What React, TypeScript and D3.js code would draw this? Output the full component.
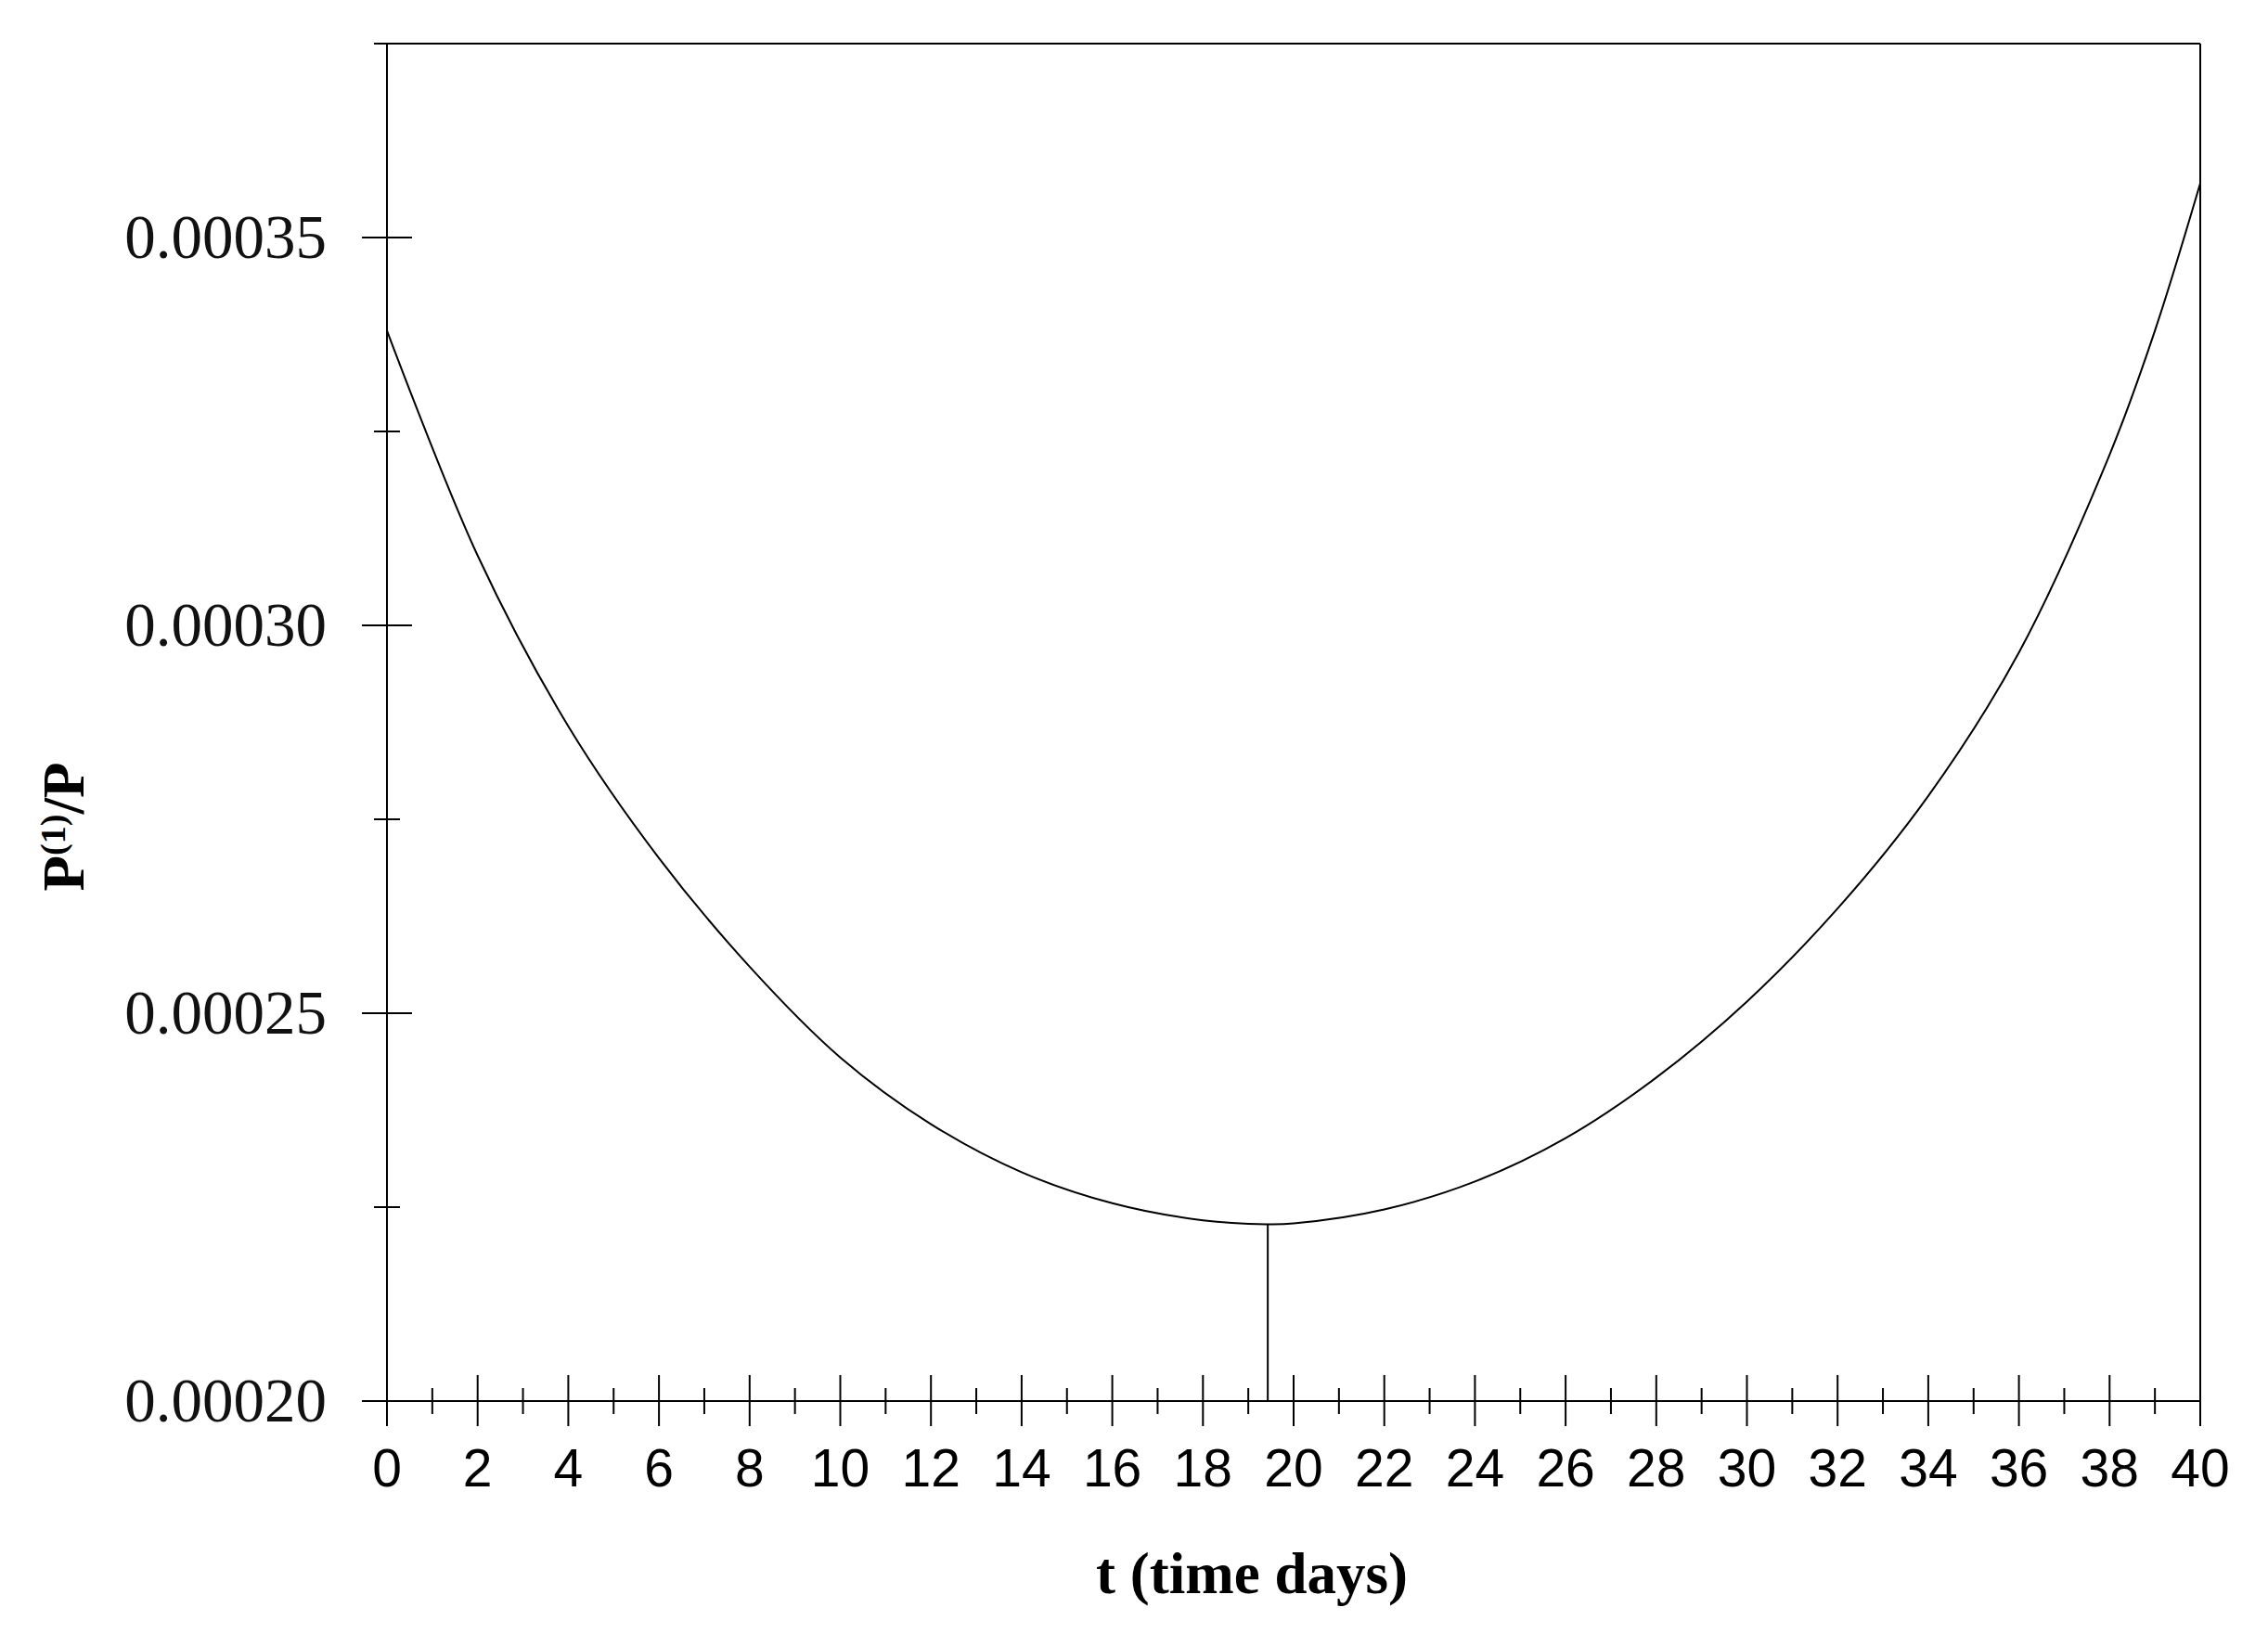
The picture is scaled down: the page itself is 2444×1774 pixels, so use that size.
import React from 'react'
import * as d3 from 'd3'

// curve (t in days, P(1)/P)
const days = [0, 2, 4, 6, 8, 10, 12, 14, 16, 18, 19.4, 20, 22, 24, 26, 28, 30, 32, 34, 36, 38, 39, 40]
const ratio = [
  0.000338, 0.000309, 0.000287, 0.00027, 0.000256, 0.0002443, 0.0002357, 0.0002295, 0.0002255,
  0.0002233, 0.0002228, 0.0002229, 0.0002247, 0.0002283, 0.0002339, 0.0002417, 0.0002515, 0.0002635,
  0.000278, 0.0002965, 0.000322, 0.000338, 0.000357,
]

// the drop line at the minimum
const minDay = 19.43
const minRatio = 0.0002228

const xMajor = [0, 2, 4, 6, 8, 10, 12, 14, 16, 18, 20, 22, 24, 26, 28, 30, 32, 34, 36, 38, 40]
const xMinor = [1, 3, 5, 7, 9, 11, 13, 15, 17, 19, 21, 23, 25, 27, 29, 31, 33, 35, 37, 39]
const yMajor = [0.0002, 0.00025, 0.0003, 0.00035]
const yMinor = [0.000225, 0.000275, 0.000325, 0.000375]
const yLabels = ['0.00020', '0.00025', '0.00030', '0.00035']

const W = 2444
const H = 1774

export default function App() {
  const x = d3.scaleLinear().domain([0, 40]).range([417, 2371])
  const y = d3.scaleLinear().domain([0.0002, 0.000375]).range([1510, 47])

  const pts = days.map((d, i) => [d, ratio[i]] as [number, number])
  const line = d3.line<[number, number]>()
    .x(d => x(d[0]))
    .y(d => y(d[1]))
    .curve(d3.curveCatmullRom.alpha(0.5))

  const x0 = x(0)
  const x1 = x(40)
  const yb = y(0.0002)
  const yt = y(0.000375)
  const stroke = '#000'

  return (
    <svg width={W} height={H} style={{ position: 'absolute', left: 0, top: 0, background: '#fff' }}>
      <rect x={0} y={0} width={W} height={H} fill="#fff" />

      {/* frame */}
      <line x1={x0} y1={yt} x2={x0} y2={yb} stroke={stroke} strokeWidth={2} />
      <line x1={x1} y1={yt} x2={x1} y2={yb} stroke={stroke} strokeWidth={2} />
      <line x1={x0} y1={yt} x2={x1} y2={yt} stroke={stroke} strokeWidth={2} />
      <line x1={x0} y1={yb} x2={x1} y2={yb} stroke={stroke} strokeWidth={2} />

      {/* y ticks */}
      {yMajor.map(v => (
        <line key={'ym' + v} x1={x0 - 27} x2={x0 + 27} y1={y(v)} y2={y(v)} stroke={stroke} strokeWidth={2} />
      ))}
      {yMinor.map(v => (
        <line key={'yn' + v} x1={x0 - 14} x2={x0 + 14} y1={y(v)} y2={y(v)} stroke={stroke} strokeWidth={2} />
      ))}
      {yMajor.map((v, i) => (
        <text key={'yl' + v} x={352} y={y(v) + 22} textAnchor="end"
          fontFamily="'Liberation Serif', 'Times New Roman', serif" fontSize={67} fill="#111">
          {yLabels[i]}
        </text>
      ))}

      {/* x ticks */}
      {xMajor.map(v => (
        <line key={'xm' + v} x1={x(v)} x2={x(v)} y1={yb - 28} y2={yb + 27} stroke={stroke} strokeWidth={2} />
      ))}
      {xMinor.map(v => (
        <line key={'xn' + v} x1={x(v)} x2={x(v)} y1={yb - 14} y2={yb + 14} stroke={stroke} strokeWidth={2} />
      ))}
      {xMajor.map(v => (
        <text key={'xl' + v} x={x(v)} y={1602} textAnchor="middle"
          fontFamily="'Liberation Sans', Arial, sans-serif" fontSize={57} fill="#000">
          {v}
        </text>
      ))}

      {/* curve and minimum */}
      <path d={line(pts) ?? ''} fill="none" stroke={stroke} strokeWidth={2} />
      <line x1={x(minDay)} x2={x(minDay)} y1={y(minRatio)} y2={yb} stroke={stroke} strokeWidth={2} />

      {/* titles */}
      <text x={1349} y={1717} textAnchor="middle" fontFamily="'Liberation Serif', 'Times New Roman', serif"
        fontWeight="bold" fontSize={63} fill="#000">
        t (time days)
      </text>
      <text transform="translate(90,891) rotate(-90)" textAnchor="middle"
        fontFamily="'Liberation Serif', 'Times New Roman', serif" fontWeight="bold" fontSize={63} fill="#000">
        P<tspan fontSize={38} dy={-20}>(1)</tspan><tspan dy={20}>/P</tspan>
      </text>
    </svg>
  )
}
